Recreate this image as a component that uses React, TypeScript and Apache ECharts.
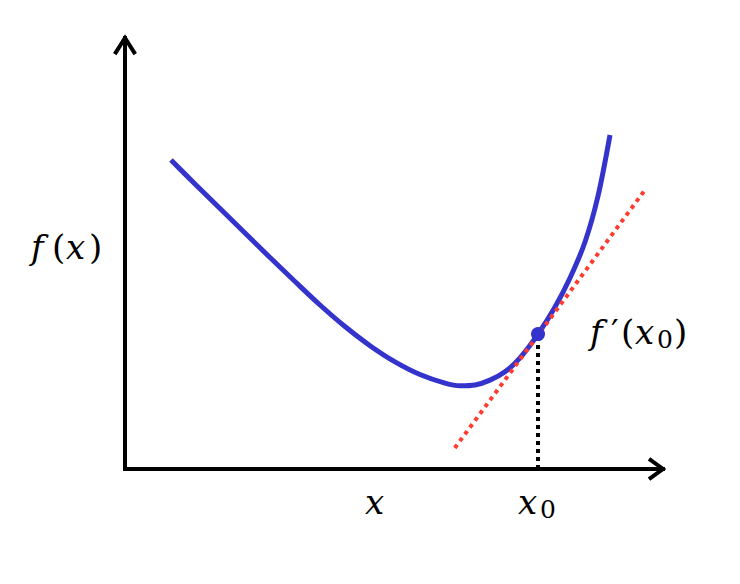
import React, { useEffect, useRef } from "react";
import * as echarts from "echarts";

// Curve f(x) sample points (chart units)
const curveX = [0.855, 1.301, 1.766, 2.23, 2.695, 3.16, 3.625, 4.089, 4.554, 5.019, 5.483, 5.948, 6.227, 6.506, 6.784, 7.063, 7.342, 7.677, 7.993, 8.271, 8.55, 8.792, 9.015];
const curveY = [5.735, 5.29, 4.835, 4.38, 3.925, 3.48, 3.044, 2.644, 2.289, 1.989, 1.754, 1.594, 1.544, 1.559, 1.649, 1.804, 2.064, 2.504, 3.007, 3.545, 4.213, 5.067, 6.2];

// Tangent line end points
const tangentX = [6.13, 9.665];
const tangentY = [0.39, 5.18];

// Point of tangency x0
const x0 = 7.677;
const y0 = 2.504;

// Axis extents
const xMin = -0.5;
const xMax = 10;
const yMax = 8;

const BLUE = "#3434cc";
const RED = "#ff3a2e";

type Glyph = { t: string; x: number; y: number; italic?: boolean; size?: number };

// label glyph placement (layout only)
const glyphs: Glyph[] = [
  // f(x)
  { t: "f", x: 31, y: 247, italic: true },
  { t: "(", x: 52, y: 247 },
  { t: "x", x: 66, y: 247, italic: true },
  { t: ")", x: 89, y: 247 },
  // x
  { t: "x", x: 365, y: 502, italic: true },
  // x0
  { t: "x", x: 518, y: 502, italic: true },
  { t: "0", x: 540, y: 509, size: 25 },
  // f'(x0)
  { t: "f", x: 590, y: 332, italic: true },
  { t: "′", x: 611, y: 332 },
  { t: "(", x: 621, y: 332 },
  { t: "x", x: 635, y: 332, italic: true },
  { t: "0", x: 657, y: 339, size: 25 },
  { t: ")", x: 674, y: 332 },
];

export default function App() {
  const ref = useRef<HTMLDivElement>(null);
  useEffect(() => {
    if (!ref.current) return;
    const chart = echarts.init(ref.current, undefined, { renderer: "svg" });
    const curve = curveX.map((x, i) => [x, curveY[i]]);
    const tangent = tangentX.map((x, i) => [x, tangentY[i]]);
    const axesLine = [[xMax, 0], [0, 0], [0, yMax]];
    const arrowParts = [
      [[xMax - 0.26, 0.19], [xMax, 0], [xMax - 0.26, -0.19]],
      [[-0.19, yMax - 0.3], [0, yMax], [0.19, yMax - 0.3]],
    ];
    const lineBase = {
      type: "line",
      symbol: "none",
      clip: false,
      silent: true,
    };
    chart.setOption({
      animation: false,
      grid: { left: 125 + xMin * 53.8, right: 77, top: 38, bottom: 115 },
      xAxis: { type: "value", min: xMin, max: xMax, show: false },
      yAxis: { type: "value", min: 0, max: yMax, show: false },
      series: [
        { ...lineBase, data: axesLine, z: 2, lineStyle: { color: "#000", width: 4, join: "miter", cap: "square" } },
        ...arrowParts.map((d) => ({
          ...lineBase,
          data: d,
          z: 2,
          lineStyle: { color: "#000", width: 4, join: "miter" },
        })),
        { ...lineBase, data: [[x0, 0], [x0, y0]], z: 3, lineStyle: { color: "#000", width: 4, type: [4, 4] } },
        { ...lineBase, data: curve, smooth: 0.3, z: 4, lineStyle: { color: BLUE, width: 5 } },
        { ...lineBase, data: tangent, z: 5, lineStyle: { color: RED, width: 4, type: [4, 4.5] } },
        {
          type: "scatter",
          data: [[x0, y0]],
          symbol: "circle",
          symbolSize: 14,
          itemStyle: { color: BLUE, opacity: 1 },
          z: 6,
          silent: true,
        },
      ],
      graphic: glyphs.map((g) => ({
        type: "text",
        x: g.x,
        y: g.y,
        style: {
          text: g.t,
          font: `${g.italic ? "italic" : "normal"} normal ${g.size ?? 34}px "DejaVu Serif", "Liberation Serif", serif`,
          fill: "#000",
          align: "left",
          verticalAlign: "middle",
        },
      })),
    });
    return () => chart.dispose();
  }, []);
  return (
    <div
      ref={ref}
      style={{ position: "fixed", left: 0, top: 0, width: 740, height: 584, background: "#fff" }}
    />
  );
}
